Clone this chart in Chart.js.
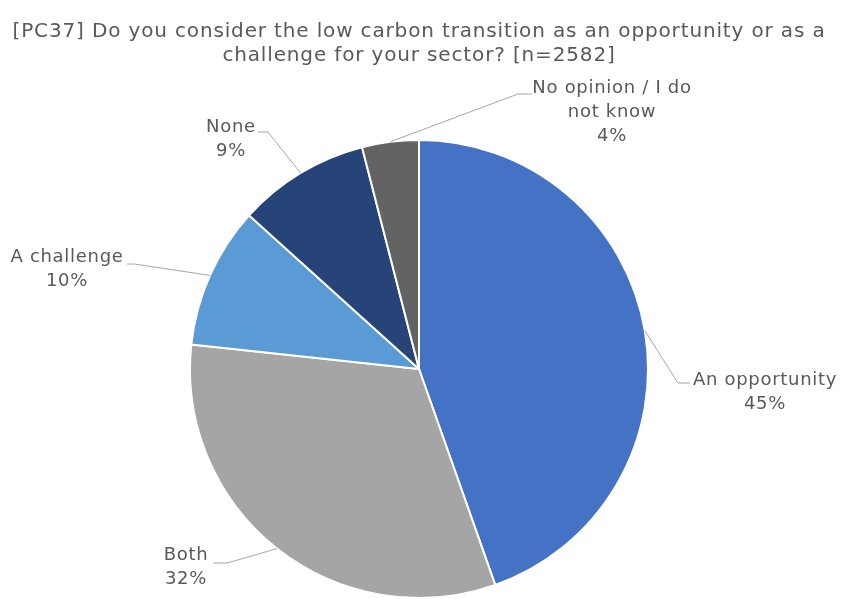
<!DOCTYPE html>
<html>
<head>
<meta charset="utf-8">
<script src="https://cdn.jsdelivr.net/npm/chart.js@4"></script>
<style>
  html, body { margin: 0; padding: 0; background: #fff; }
  #wrap { width: 845px; height: 599px; }
</style>
</head>
<body>
<div id="wrap"><canvas id="pcChart"></canvas></div>
<script>
const titleLines = [
	'[PC37] Do you consider the low carbon transition as an opportunity or as a',
	'challenge for your sector? [n=2582]',
];
const categories = [ 'An opportunity', 'Both', 'A challenge', 'None', 'No opinion / I do not know' ];
const shares = [ 44.6, 32.1, 10.0, 9.3, 4.0 ];
const percentLabels = [ '45%', '32%', '10%', '9%', '4%' ];
const labelLines = [
	[ 'An opportunity' ],
	[ 'Both' ],
	[ 'A challenge' ],
	[ 'None' ],
	[ 'No opinion / I do', 'not know' ],
];
const sliceColors = [ '#4472C4', '#A5A5A5', '#5B9BD5', '#264478', '#636363' ];

// label placement, offsets from the pie centre: text centre, hook end, elbow
const labelPlaces = [
	{ tx: 346, ty: 11, hx: 271, hy: 14, ex: 259, ey: 14 },
	{ tx: -233, ty: 186, hx: -206, hy: 194, ex: -192, ey: 194 },
	{ tx: -352, ty: -112, hx: -292, hy: -105, ex: -285, ey: -105 },
	{ tx: -188, ty: -242, hx: -161, hy: -237, ex: -151, ey: -237 },
	{ tx: 193, ty: -281, hx: 113, hy: -275, ex: 99, ey: -275 },
];

const labelFont = '18px "DejaVu Sans"';
const lineStep = 24;

const spacing = {
	id: 'spacing',
	beforeDraw( chart ) {
		chart.ctx.letterSpacing = '0.85px';
	},
};

const leaderLabels = {
	id: 'leaderLabels',
	afterDatasetsDraw( chart ) {
		const c = chart.ctx;
		const arcs = chart.getDatasetMeta( 0 ).data;
		c.save();
		arcs.forEach( function( arc, i ) {
			const p = labelPlaces[ i ];
			const cx = arc.x;
			const cy = arc.y;
			const mid = ( arc.startAngle + arc.endAngle ) / 2;
			const ax = cx + Math.cos( mid ) * arc.outerRadius;
			const ay = cy + Math.sin( mid ) * arc.outerRadius;

			c.strokeStyle = '#A6A6A6';
			c.lineWidth = 1;
			c.beginPath();
			c.moveTo( ax, ay );
			c.lineTo( cx + p.ex, cy + p.ey );
			c.lineTo( cx + p.hx, cy + p.hy );
			c.stroke();

			c.fillStyle = '#595959';
			c.font = labelFont;
			c.letterSpacing = '0.7px';
			c.textAlign = 'center';
			c.textBaseline = 'middle';
			const lines = labelLines[ i ].concat( [ percentLabels[ i ] ] );
			lines.forEach( function( line, k ) {
				c.fillText( line, cx + p.tx, cy + p.ty + k * lineStep );
			} );
		} );
		c.restore();
	},
};

new Chart( document.getElementById( 'pcChart' ), {
	type: 'pie',
	data: {
		labels: categories,
		datasets: [
			{
				data: shares,
				backgroundColor: sliceColors,
				borderColor: '#ffffff',
				borderWidth: 2,
			},
		],
	},
	options: {
		responsive: true,
		maintainAspectRatio: false,
		animation: false,
		layout: {
			padding: { left: 0, right: 7, top: 0, bottom: 0 },
		},
		plugins: {
			legend: { display: false },
			tooltip: { enabled: false },
			title: {
				display: true,
				text: titleLines,
				color: '#595959',
				font: { family: 'DejaVu Sans', size: 20, weight: 'normal', lineHeight: 1.2 },
				padding: { top: 20, bottom: 71 },
			},
		},
	},
	plugins: [ spacing, leaderLabels ],
} );
</script>
</body>
</html>
